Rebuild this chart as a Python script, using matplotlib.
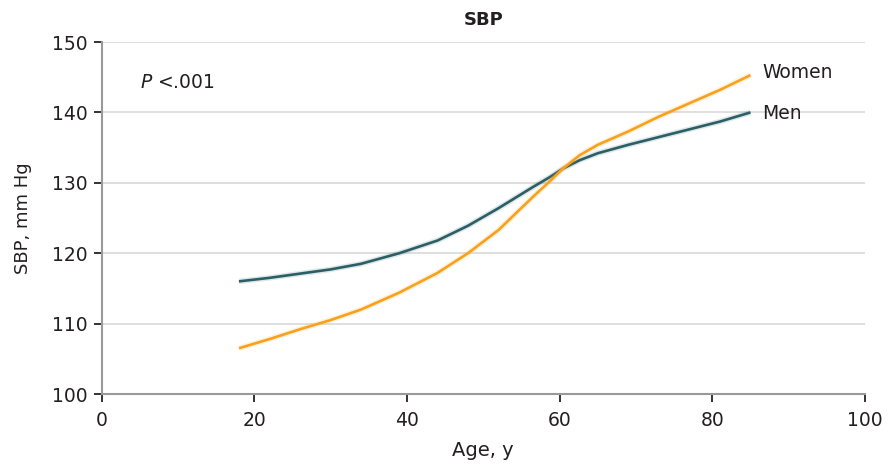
import matplotlib
matplotlib.use("Agg")
import matplotlib.pyplot as plt

ages = [18, 22, 26, 30, 34, 39, 44, 48, 52, 56.5, 58.7, 60.4, 62.6, 65, 69, 73, 77, 81, 85]
men = [116.0, 116.5, 117.1, 117.7, 118.5, 120.0, 121.8, 123.9, 126.4, 129.4, 130.8, 132.0, 133.2, 134.2, 135.4, 136.5, 137.6, 138.7, 140.0]
women = [106.5, 107.8, 109.2, 110.5, 112.0, 114.4, 117.2, 120.0, 123.3, 128.0, 130.2, 132.0, 133.9, 135.4, 137.3, 139.4, 141.3, 143.2, 145.3]

series_names = ["Women", "Men"]
x_ticks = [0, 20, 40, 60, 80, 100]
y_ticks = [100, 110, 120, 130, 140, 150]

men_color = "#2b5f66"
women_color = "#f9a11b"
text_color = "#231f20"

plt.rcParams['font.family'] = ['DejaVu Sans']
fig = plt.figure(figsize=(8.89, 4.67), dpi=100)
ax = fig.add_axes([0.1142, 0.1563, 0.973 - 0.1142, 0.910 - 0.1563])

ax.plot(ages, men, color=men_color, lw=4.0, alpha=0.15, solid_capstyle='butt')
ax.plot(ages, men, color=men_color, lw=1.9, solid_capstyle='butt')
ax.plot(ages, women, color=women_color, lw=4.0, alpha=0.15, solid_capstyle='butt')
ax.plot(ages, women, color=women_color, lw=1.9, solid_capstyle='butt')

ax.set_xlim(0, 100)
ax.set_ylim(100, 150)
ax.set_xticks(x_ticks)
ax.set_yticks(y_ticks)
ax.grid(axis='y', color='#dcdcdc', lw=1.3)
ax.set_axisbelow(True)
for s in ['top', 'right']:
    ax.spines[s].set_visible(False)
for s in ['left', 'bottom']:
    ax.spines[s].set_color('#9a9a9a')
    ax.spines[s].set_linewidth(1.5)
ax.tick_params(axis='both', length=6, width=1.4, color='#333333', labelsize=13.5,
               labelcolor=text_color)
ax.tick_params(axis='x', pad=6)
ax.tick_params(axis='y', pad=4)

ax.set_xlabel("Age, y", fontsize=14, color=text_color, labelpad=8)
ax.set_ylabel("SBP, mm Hg", fontsize=13, color=text_color, labelpad=14)
ax.set_title("SBP", fontsize=13, color=text_color, fontweight='bold', pad=12)

ax.text(5, 144.2, r"$\mathit{P}$" + " <.001", fontsize=13.5, color=text_color, va='center')
ax.text(86.5, women[-1] + 0.4, series_names[0], fontsize=13.5, color=text_color, va='center')
ax.text(86.5, men[-1] - 0.2, series_names[1], fontsize=13.5, color=text_color, va='center')

fig.savefig("out.png", dpi=100)
